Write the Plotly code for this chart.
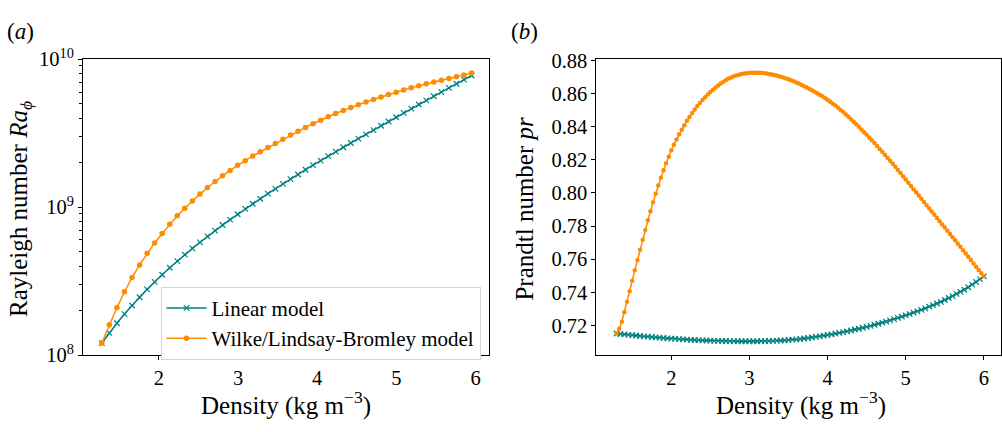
import plotly.graph_objects as go

# ---------------- data ----------------
# panel (a): Rayleigh number vs density
rho_a = [1.280, 1.375, 1.471, 1.566, 1.661, 1.757, 1.852, 1.947, 2.042, 2.138,
         2.233, 2.328, 2.424, 2.519, 2.614, 2.710, 2.805, 2.900, 2.995, 3.091,
         3.186, 3.281, 3.377, 3.472, 3.567, 3.663, 3.758, 3.853, 3.948, 4.044,
         4.139, 4.234, 4.330, 4.425, 4.520, 4.616, 4.711, 4.806, 4.901, 4.997,
         5.092, 5.187, 5.283, 5.378, 5.473, 5.569, 5.664, 5.759, 5.854, 5.950]

ra_linear = [1.205e8, 1.413e8, 1.641e8, 1.892e8, 2.163e8, 2.460e8, 2.780e8, 3.126e8, 3.491e8, 3.890e8,
             4.315e8, 4.775e8, 5.260e8, 5.781e8, 6.339e8, 6.934e8, 7.568e8, 8.241e8, 8.954e8, 9.727e8,
             1.054e9, 1.140e9, 1.233e9, 1.330e9, 1.436e9, 1.545e9, 1.663e9, 1.791e9, 1.923e9, 2.065e9,
             2.213e9, 2.371e9, 2.541e9, 2.716e9, 2.904e9, 3.105e9, 3.319e9, 3.548e9, 3.793e9, 4.055e9,
             4.335e9, 4.634e9, 4.943e9, 5.272e9, 5.623e9, 5.998e9, 6.397e9, 6.823e9, 7.278e9, 7.762e9]

ra_wilke = [1.205e8, 1.600e8, 2.094e8, 2.679e8, 3.342e8, 4.064e8, 4.875e8, 5.728e8, 6.637e8, 7.656e8,
            8.730e8, 9.817e8, 1.102e9, 1.225e9, 1.358e9, 1.493e9, 1.629e9, 1.770e9, 1.919e9, 2.061e9,
            2.218e9, 2.366e9, 2.535e9, 2.698e9, 2.877e9, 3.069e9, 3.258e9, 3.459e9, 3.664e9, 3.873e9,
            4.083e9, 4.295e9, 4.508e9, 4.721e9, 4.932e9, 5.140e9, 5.346e9, 5.559e9, 5.768e9, 5.984e9,
            6.194e9, 6.412e9, 6.622e9, 6.839e9, 7.015e9, 7.211e9, 7.413e9, 7.621e9, 7.834e9, 8.054e9]

# panel (b): Prandtl number vs density
rho_b_linear = [1.30, 1.35, 1.40, 1.45, 1.50, 1.55, 1.60, 1.65, 1.70, 1.75,
                1.80, 1.85, 1.90, 1.95, 2.00, 2.05, 2.10, 2.15, 2.20, 2.25,
                2.30, 2.35, 2.40, 2.45, 2.50, 2.55, 2.60, 2.65, 2.70, 2.75,
                2.80, 2.85, 2.90, 2.95, 3.00, 3.05, 3.10, 3.15, 3.20, 3.25,
                3.30, 3.35, 3.40, 3.45, 3.50, 3.55, 3.60, 3.65, 3.70, 3.75,
                3.80, 3.85, 3.90, 3.95, 4.00, 4.05, 4.10, 4.15, 4.20, 4.25,
                4.30, 4.35, 4.40, 4.45, 4.50, 4.55, 4.60, 4.65, 4.70, 4.75,
                4.80, 4.85, 4.90, 4.95, 5.00, 5.05, 5.10, 5.15, 5.20, 5.25,
                5.30, 5.35, 5.40, 5.45, 5.50, 5.55, 5.60, 5.65, 5.70, 5.75,
                5.80, 5.85, 5.90, 5.95, 6.00]

pr_linear = [0.7152, 0.7149, 0.7147, 0.7144, 0.7142, 0.7140, 0.7137, 0.7135, 0.7133, 0.7131,
             0.7129, 0.7127, 0.7125, 0.7123, 0.7121, 0.7120, 0.7118, 0.7117, 0.7115, 0.7114,
             0.7113, 0.7112, 0.7111, 0.7110, 0.7109, 0.7108, 0.7108, 0.7107, 0.7107, 0.7106,
             0.7106, 0.7105, 0.7105, 0.7105, 0.7105, 0.7105, 0.7105, 0.7106, 0.7106, 0.7107,
             0.7108, 0.7109, 0.7110, 0.7111, 0.7113, 0.7115, 0.7117, 0.7119, 0.7122, 0.7125,
             0.7128, 0.7132, 0.7135, 0.7139, 0.7143, 0.7147, 0.7151, 0.7156, 0.7160, 0.7165,
             0.7170, 0.7176, 0.7181, 0.7187, 0.7192, 0.7198, 0.7205, 0.7211, 0.7218, 0.7224,
             0.7231, 0.7239, 0.7246, 0.7254, 0.7261, 0.7269, 0.7278, 0.7286, 0.7295, 0.7304,
             0.7314, 0.7323, 0.7333, 0.7343, 0.7354, 0.7366, 0.7378, 0.7391, 0.7403, 0.7416,
             0.7431, 0.7447, 0.7463, 0.7480, 0.7497]

rho_b_wilke = [1.300, 1.333, 1.367, 1.400, 1.433, 1.467, 1.500, 1.533, 1.567, 1.600,
               1.633, 1.667, 1.700, 1.733, 1.767, 1.800, 1.833, 1.867, 1.900, 1.933,
               1.967, 2.000, 2.033, 2.067, 2.100, 2.133, 2.167, 2.200, 2.233, 2.267,
               2.300, 2.333, 2.367, 2.400, 2.433, 2.467, 2.500, 2.533, 2.567, 2.600,
               2.633, 2.667, 2.700, 2.733, 2.767, 2.800, 2.833, 2.867, 2.900, 2.933,
               2.967, 3.000, 3.033, 3.067, 3.100, 3.133, 3.167, 3.200, 3.233, 3.267,
               3.300, 3.333, 3.367, 3.400, 3.433, 3.467, 3.500, 3.533, 3.567, 3.600,
               3.633, 3.667, 3.700, 3.733, 3.767, 3.800, 3.833, 3.867, 3.900, 3.933,
               3.967, 4.000, 4.033, 4.067, 4.100, 4.133, 4.167, 4.200, 4.233, 4.267,
               4.300, 4.333, 4.367, 4.400, 4.433, 4.467, 4.500, 4.533, 4.567, 4.600,
               4.633, 4.667, 4.700, 4.733, 4.767, 4.800, 4.833, 4.867, 4.900, 4.933,
               4.967, 5.000, 5.033, 5.067, 5.100, 5.133, 5.167, 5.200, 5.233, 5.267,
               5.300, 5.333, 5.367, 5.400, 5.433, 5.467, 5.500, 5.533, 5.567, 5.600,
               5.633, 5.667, 5.700, 5.733, 5.767, 5.800, 5.833, 5.867, 5.900, 5.933,
               5.967, 6.000]

pr_wilke = [0.7152, 0.7181, 0.7223, 0.7280, 0.7343, 0.7407, 0.7470, 0.7533, 0.7596, 0.7658,
            0.7718, 0.7777, 0.7835, 0.7890, 0.7944, 0.7996, 0.8045, 0.8092, 0.8137, 0.8179,
            0.8219, 0.8258, 0.8291, 0.8323, 0.8354, 0.8382, 0.8409, 0.8435, 0.8459, 0.8482,
            0.8504, 0.8524, 0.8543, 0.8561, 0.8578, 0.8594, 0.8609, 0.8623, 0.8636, 0.8649,
            0.8660, 0.8671, 0.8681, 0.8690, 0.8697, 0.8704, 0.8709, 0.8714, 0.8718, 0.8721,
            0.8723, 0.8725, 0.8726, 0.8726, 0.8726, 0.8725, 0.8724, 0.8723, 0.8720, 0.8717,
            0.8714, 0.8710, 0.8706, 0.8701, 0.8696, 0.8691, 0.8686, 0.8680, 0.8674, 0.8667,
            0.8660, 0.8652, 0.8644, 0.8636, 0.8628, 0.8620, 0.8611, 0.8602, 0.8593, 0.8583,
            0.8573, 0.8562, 0.8551, 0.8539, 0.8527, 0.8514, 0.8501, 0.8488, 0.8474, 0.8460,
            0.8445, 0.8430, 0.8414, 0.8399, 0.8383, 0.8367, 0.8351, 0.8334, 0.8318, 0.8301,
            0.8284, 0.8266, 0.8249, 0.8231, 0.8213, 0.8195, 0.8176, 0.8158, 0.8139, 0.8120,
            0.8100, 0.8081, 0.8062, 0.8042, 0.8023, 0.8004, 0.7984, 0.7965, 0.7946, 0.7926,
            0.7907, 0.7888, 0.7868, 0.7849, 0.7830, 0.7810, 0.7791, 0.7772, 0.7752, 0.7733,
            0.7714, 0.7694, 0.7675, 0.7655, 0.7635, 0.7615, 0.7595, 0.7575, 0.7555, 0.7535,
            0.7515, 0.7497]

series_names = ["Linear model", "Wilke/Lindsay-Bromley model"]
ra_ticks = [1e8, 1e9, 1e10]
ra_ticktext = ["10<sup>8</sup>", "10<sup>9</sup>", "10<sup>10</sup>"]
ra_minor = [2e8, 3e8, 4e8, 5e8, 6e8, 7e8, 8e8, 9e8, 2e9, 3e9, 4e9, 5e9, 6e9, 7e9, 8e9, 9e9]
rho_ticks = [2, 3, 4, 5, 6]
pr_ticks = [0.72, 0.74, 0.76, 0.78, 0.80, 0.82, 0.84, 0.86, 0.88]

# ---------------- style ----------------
W, H = 1002, 432
TEAL = "#008080"
ORANGE = "#ff8c00"
FONT = "Liberation Serif, Times New Roman, serif"


def px_x(p):
    return p / W


def px_y(p):
    return (H - p) / H


fig = go.Figure()

# panel (a)
fig.add_trace(go.Scatter(
    x=rho_a, y=ra_linear, mode="lines+markers", name=series_names[0],
    line=dict(color=TEAL, width=1.5),
    marker=dict(symbol="x-thin", size=5.5, color=TEAL, line=dict(color=TEAL, width=1.2)),
    xaxis="x", yaxis="y"))
fig.add_trace(go.Scatter(
    x=rho_a, y=ra_wilke, mode="lines+markers", name=series_names[1],
    line=dict(color=ORANGE, width=1.5),
    marker=dict(symbol="circle", size=5.5, color=ORANGE, line=dict(width=0)),
    xaxis="x", yaxis="y"))

# panel (b)
fig.add_trace(go.Scatter(
    x=rho_b_linear, y=pr_linear, mode="lines+markers", name=series_names[0], showlegend=False,
    line=dict(color=TEAL, width=1.5),
    marker=dict(symbol="x-thin", size=5.5, color=TEAL, line=dict(color=TEAL, width=1.2)),
    xaxis="x2", yaxis="y2"))
fig.add_trace(go.Scatter(
    x=rho_b_wilke, y=pr_wilke, mode="lines+markers", name=series_names[1], showlegend=False,
    line=dict(color=ORANGE, width=1.5),
    marker=dict(symbol="circle", size=4.5, color=ORANGE, line=dict(width=0)),
    xaxis="x2", yaxis="y2"))

axis_common = dict(
    showline=True, mirror=True, linecolor="black", linewidth=1,
    ticks="outside", ticklen=4, tickwidth=1, tickcolor="black",
    showgrid=False, zeroline=False,
    tickfont=dict(family=FONT, size=20.5, color="black"),
)

fig.update_layout(
    width=W, height=H,
    margin=dict(l=0, r=0, t=0, b=0),
    paper_bgcolor="white", plot_bgcolor="white",
    font=dict(family=FONT, color="black"),
    xaxis=dict(domain=[px_x(83), px_x(489)], range=[1.041, 6.164],
               tickvals=rho_ticks, anchor="y", **axis_common),
    yaxis=dict(domain=[px_y(362), px_y(48)], type="log", range=[8, 10],
               tickvals=ra_ticks, ticktext=ra_ticktext, anchor="x",
               minor=dict(tickvals=ra_minor, ticks="outside", ticklen=2.5,
                          tickwidth=0.8, tickcolor="black", showgrid=False),
               **axis_common),
    xaxis2=dict(domain=[px_x(597), px_x(1001.5)], range=[1.0415, 6.213],
                tickvals=rho_ticks, anchor="y2", **axis_common),
    yaxis2=dict(domain=[px_y(362), px_y(48)], range=[0.7022, 0.8807],
                tickvals=pr_ticks, tickformat=".2f", anchor="x2", **axis_common),
    legend=dict(x=px_x(481), xanchor="right", y=px_y(367), yanchor="bottom",
                bgcolor="white", bordercolor="#d4d4d4", borderwidth=1,
                font=dict(family=FONT, size=21, color="black"),
                tracegroupgap=0, itemwidth=40),
    showlegend=True,
)

annotations = [
    dict(text="(<i>a</i>)", x=px_x(5), y=px_y(19), xanchor="left", yanchor="middle",
         font=dict(size=23)),
    dict(text="(<i>b</i>)", x=px_x(510), y=px_y(19), xanchor="left", yanchor="middle",
         font=dict(size=23)),
    dict(text="Density (kg m<sup>\u22123</sup>)", x=px_x(286), y=px_y(413),
         xanchor="center", yanchor="middle", font=dict(size=25)),
    dict(text="Density (kg m<sup>\u22123</sup>)", x=px_x(802), y=px_y(413),
         xanchor="center", yanchor="middle", font=dict(size=25)),
    dict(text="Rayleigh number <i>Ra</i><sub><i>\u03d5</i></sub>", x=px_x(20), y=px_y(207),
         xanchor="center", yanchor="middle", textangle=-90, font=dict(size=25)),
    dict(text="Prandtl number <i>pr</i>", x=px_x(525), y=px_y(206),
         xanchor="center", yanchor="middle", textangle=-90, font=dict(size=25)),
]
for a in annotations:
    a.update(xref="paper", yref="paper", showarrow=False)
    a["font"].update(family=FONT, color="black")
fig.update_layout(annotations=annotations)

fig.write_html("out.html")
